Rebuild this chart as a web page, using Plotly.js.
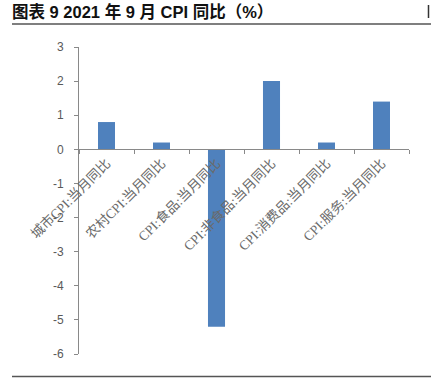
<!DOCTYPE html>
<html><head><meta charset="utf-8">
<script src="https://cdn.plot.ly/plotly-3.0.1.min.js"></script>
<style>html,body{margin:0;padding:0;background:#fff}#c{width:431px;height:378px}</style>
</head><body><div id="c"></div>
<script>
const categories = ["城市CPI:当月同比","农村CPI:当月同比","CPI:食品:当月同比","CPI:非食品:当月同比","CPI:消费品:当月同比","CPI:服务:当月同比"];
const values = [0.8, 0.2, -5.2, 2.0, 0.2, 1.4];
const yTicks = [3,2,1,0,-1,-2,-3,-4,-5,-6];

const L=79, R=409, T=47, B=354;
const px = x => (x-L)/(R-L);
const py = y => (B-y)/(B-T);

const layout = {
  width:431, height:378,
  margin:{l:L, r:431-R, t:T, b:378-B},
  paper_bgcolor:'#fff', plot_bgcolor:'#fff',
  showlegend:false,
  title:{text:'<b>图表 9 2021 年 9 月 CPI 同比（%）</b>', x:12/431, xanchor:'left', xref:'container', y:1-12/378, yanchor:'middle', yref:'container',
    font:{family:'Liberation Sans, Noto Sans CJK SC, sans-serif', size:16.5, color:'#111'}},
  font:{family:'Liberation Sans, Noto Sans CJK SC, sans-serif', color:'#595959', size:11},
  xaxis:{type:'category', anchor:'free', position:6/9, showline:true, linecolor:'#898989', linewidth:1,
    ticks:'outside', tickson:'boundaries', ticklen:4, tickcolor:'#898989', tickangle:-45,
    tickfont:{family:'Liberation Serif, Noto Sans CJK SC, serif', size:13.5, color:'#6a6a6a'},
    showgrid:false, zeroline:false, fixedrange:true, range:[-0.5,5.5]},
  yaxis:{range:[-6,3], tickvals:yTicks, ticktext:yTicks.map(String), showline:true, linecolor:'#898989', linewidth:1,
    ticks:'outside', ticklen:4, tickcolor:'#898989', showgrid:false, zeroline:false,
    tickfont:{size:12, color:'#595959'}, ticklabelstandoff:8, fixedrange:true},
  bargap:0.69,
  shapes:[
    {type:'line', xref:'paper', yref:'paper', x0:px(12), x1:px(431), y0:py(24), y1:py(24), line:{color:'#555', width:1.5}},
    {type:'line', xref:'paper', yref:'paper', x0:px(12), x1:px(431), y0:py(376.5), y1:py(376.5), line:{color:'#555', width:1.5}},
    {type:'line', xref:'paper', yref:'paper', x0:px(428.5), x1:px(428.5), y0:py(5), y1:py(18), line:{color:'#333', width:1.5}}
  ]
};

Plotly.newPlot('c', [{type:'bar', x:categories, y:values, marker:{color:'#4F81BD'}, cliponaxis:false}], layout, {displayModeBar:false, staticPlot:true});
</script></body></html>
